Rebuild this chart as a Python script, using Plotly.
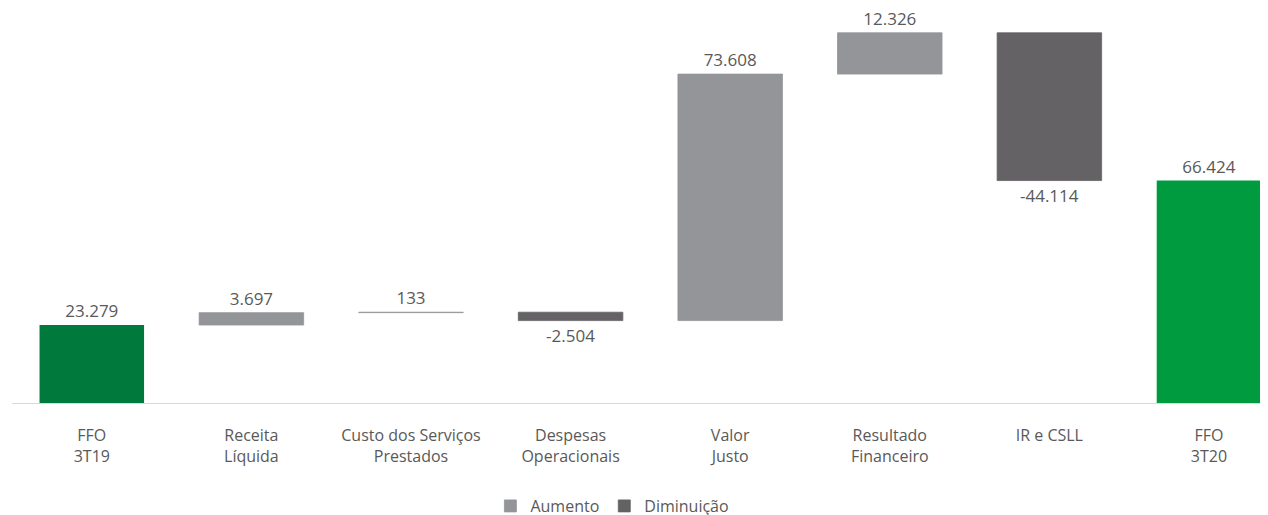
import plotly.graph_objects as go

categories = ["FFO<br>3T19", "Receita<br>Líquida", "Custo dos Serviços<br>Prestados",
              "Despesas<br>Operacionais", "Valor<br>Justo", "Resultado<br>Financeiro",
              "IR e CSLL", "FFO<br>3T20"]
values = [23279, 3697, 133, -2504, 73608, 12326, -44114, 66424]
measures = ["total", "relative", "relative", "relative", "relative", "relative", "relative", "total"]
total_colors = ["#00793D", "#009B3E"]
inc_color = "#939598"
dec_color = "#646264"
text_color = "#595959"

# compute bases
bases, cum = [], 0
for v, m in zip(values, measures):
    if m == "total":
        bases.append(0)
        cum = v
    else:
        bases.append(cum)
        cum += v

xs = list(range(len(categories)))
tot_idx = [i for i, m in enumerate(measures) if m == "total"]
inc_idx = [i for i, m in enumerate(measures) if m == "relative" and values[i] >= 0]
dec_idx = [i for i, m in enumerate(measures) if m == "relative" and values[i] < 0]

bw = 0.655
fig = go.Figure()
common = dict(width=bw, textposition="outside", cliponaxis=False,
              texttemplate="%{y:,.0f}", textfont=dict(size=17, color=text_color))
fig.add_trace(go.Bar(x=[xs[i] for i in tot_idx], y=[values[i] for i in tot_idx],
                     base=[bases[i] for i in tot_idx], marker=dict(color=total_colors, line=dict(width=0)),
                     showlegend=False, name="FFO", **common))
fig.add_trace(go.Bar(x=[xs[i] for i in inc_idx], y=[values[i] for i in inc_idx],
                     base=[bases[i] for i in inc_idx],
                     marker=dict(color=inc_color, line=dict(width=0.8, color=inc_color)),
                     name="Aumento", **common))
fig.add_trace(go.Bar(x=[xs[i] for i in dec_idx], y=[values[i] for i in dec_idx],
                     base=[bases[i] for i in dec_idx],
                     marker=dict(color=dec_color, line=dict(width=0.8, color=dec_color)),
                     name="Diminuição", **common))

fig.update_layout(
    width=1268, height=515,
    margin=dict(l=4, r=0, t=2, b=116),
    plot_bgcolor="white", paper_bgcolor="white",
    barmode="overlay",
    separators=",.",
    font=dict(family="Open Sans", size=16, color=text_color),
    showlegend=True,
    legend=dict(orientation="h", x=0.475, xanchor="center", y=-0.219, yanchor="top",
                font=dict(size=16, color=text_color), itemwidth=30, traceorder="normal"),
    xaxis=dict(tickvals=xs, ticktext=categories, range=[-0.5, 7.42],
               showgrid=False, zeroline=False, showline=True, linecolor="#D9D9D9",
               linewidth=1, ticks="", ticklabelstandoff=18,
               tickfont=dict(size=16, color=text_color)),
    yaxis=dict(range=[0, 117350], visible=False, showgrid=False, zeroline=False),
)

fig.write_html("out.html")
